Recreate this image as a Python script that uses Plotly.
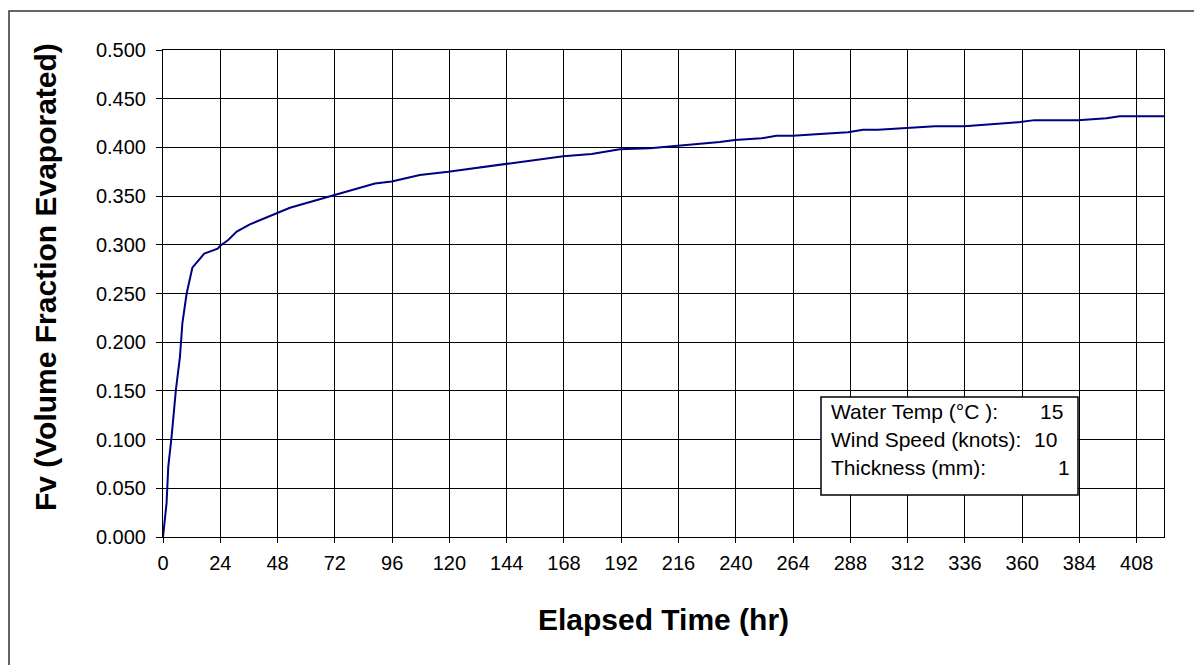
import plotly.graph_objects as go

# Data
elapsed_hr = [0, 1.5, 2.2, 3.6, 5.4, 7.1, 8.1, 9.9, 12.3, 17.3, 22.9, 24.0, 27.3, 30.9, 36.4,
              47.6, 53.2, 61.6, 72.0, 88.8, 95.8, 107.6, 119.5, 143.2, 153.7, 167.7, 179.6,
              191.4, 204.0, 215.2, 233.3, 239.6, 250.8, 257.0, 264.0, 275.2, 287.0, 293.3,
              299.6, 311.5, 323.4, 335.8, 359.1, 365.2, 383.4, 395.3, 400.8, 419.4]
fv = [0.000, 0.035, 0.072, 0.103, 0.151, 0.185, 0.219, 0.250, 0.2765, 0.291, 0.296, 0.299, 0.305,
      0.3135, 0.321, 0.332, 0.338, 0.344, 0.351, 0.363, 0.365, 0.3717, 0.375, 0.383, 0.3864,
      0.391, 0.3932, 0.398, 0.399, 0.4014, 0.4055, 0.4076, 0.4094, 0.412, 0.412, 0.4138, 0.4155,
      0.418, 0.418, 0.420, 0.4217, 0.4217, 0.426, 0.428, 0.428, 0.430, 0.432, 0.432]

x_ticks = list(range(0, 409, 24))
y_ticks = [i * 0.05 for i in range(11)]

info_labels = ["Water Temp (°C ):", "Wind Speed (knots):", "Thickness (mm):"]
info_values = ["15", "10", "1"]

W, H = 1194, 665
L, R, T, B = 163, 30, 50, 128
PW, PH = W - L - R, H - T - B

def px(xp):
    return (xp - L) / PW

def py(yp):
    return (H - B - yp) / PH

fig = go.Figure()
fig.add_trace(go.Scatter(x=elapsed_hr, y=fv, mode="lines",
                         line=dict(color="#000080", width=2), showlegend=False,
                         hoverinfo="x+y"))

font = "Liberation Sans, Arial, sans-serif"
TICK = 20
TITLE = 30

fig.update_layout(
    width=W, height=H,
    margin=dict(l=L, r=R, t=T, b=B),
    paper_bgcolor="white", plot_bgcolor="white",
    font=dict(family=font, size=TICK, color="black"),
    xaxis=dict(range=[0, 419.4], tickvals=x_ticks, ticktext=[str(v) for v in x_ticks],
               showgrid=True, gridcolor="black", gridwidth=1,
               showline=True, linecolor="black", linewidth=1, mirror=True,
               ticks="outside", ticklen=5, tickcolor="black",
               ticklabelstandoff=3,
               zeroline=False, tickfont=dict(size=TICK, family=font),
               title=dict(text="<b>Elapsed Time (hr)</b>", font=dict(size=TITLE, family=font),
                          standoff=35)),
    yaxis=dict(range=[0, 0.5], tickvals=y_ticks, tickformat=".3f",
               showgrid=True, gridcolor="black", gridwidth=1,
               showline=True, linecolor="black", linewidth=1, mirror=True,
               ticks="outside", ticklen=6, tickcolor="black",
               ticklabelstandoff=6,
               zeroline=False, tickfont=dict(size=TICK, family=font)),
)

# Y axis title (positioned as in the reference, slightly above plot centre)
fig.add_annotation(xref="paper", yref="paper", x=px(45), y=py(277),
                   text="<b>Fv (Volume Fraction Evaporated)</b>", textangle=-90,
                   showarrow=False, xanchor="center", yanchor="middle",
                   font=dict(size=TITLE, family=font, color="black"))

# Outer chart frame
fig.add_shape(type="rect", xref="paper", yref="paper",
              x0=px(9), x1=px(1230), y0=py(700), y1=py(11),
              line=dict(color="#333333", width=1.5), fillcolor="rgba(0,0,0,0)", layer="below")

# Info box
fig.add_shape(type="rect", xref="paper", yref="paper",
              x0=px(821), x1=px(1078), y0=py(495), y1=py(397),
              line=dict(color="black", width=1.5), fillcolor="white", layer="above")

rows_y = [411, 439, 467]
vals_x = [1065, 1059, 1072]
for lab, val, yy, vx in zip(info_labels, info_values, rows_y, vals_x):
    fig.add_annotation(xref="paper", yref="paper", x=px(829), y=py(yy), text=lab,
                       showarrow=False, xanchor="left", yanchor="middle",
                       font=dict(size=21, family=font, color="black"))
    fig.add_annotation(xref="paper", yref="paper", x=px(vx), y=py(yy), text=val,
                       showarrow=False, xanchor="right", yanchor="middle",
                       font=dict(size=21, family=font, color="black"))

fig.write_html("out.html")
